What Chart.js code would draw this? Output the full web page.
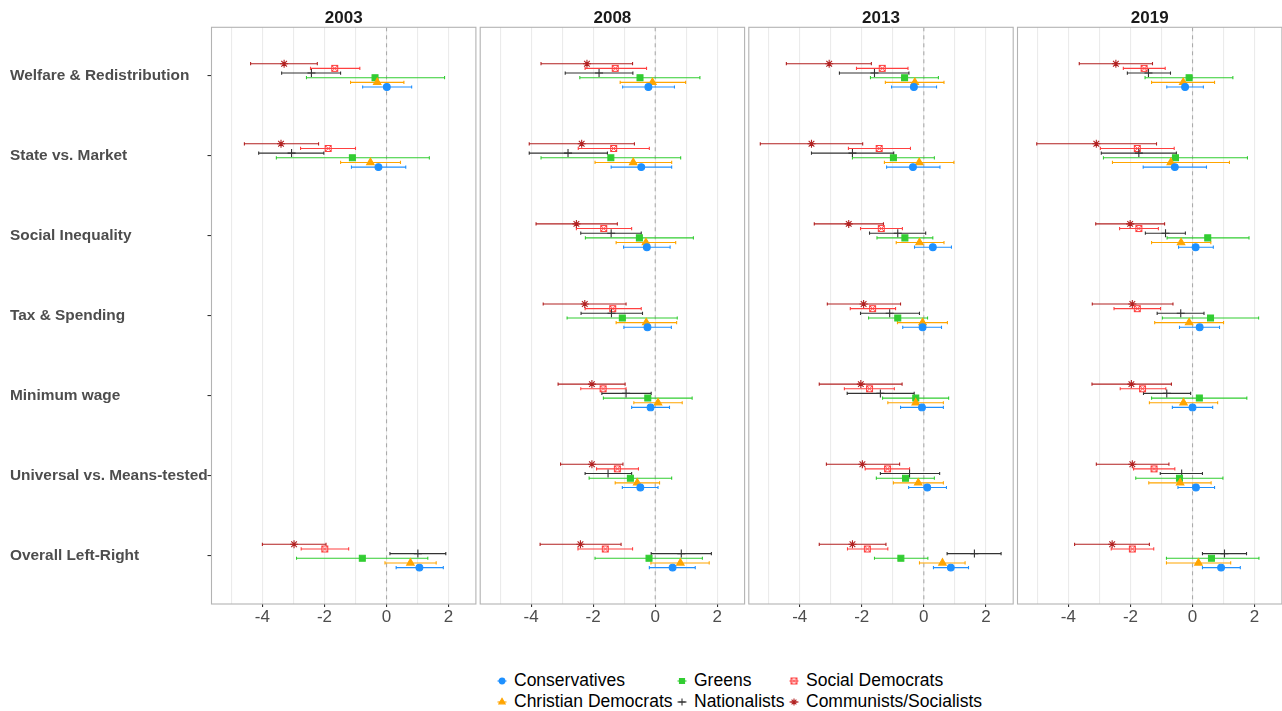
<!DOCTYPE html>
<html>
<head>
<meta charset="utf-8">
<script src="https://cdn.jsdelivr.net/npm/chart.js@4.4.1/dist/chart.umd.min.js"></script>
<style>
  html, body { margin: 0; padding: 0; background: #ffffff; }
  body { width: 1282px; height: 711px; position: relative; overflow: hidden;
         font-family: 'Liberation Sans', Arial, Helvetica, sans-serif; }
  canvas.panel { position: absolute; top: 0; }
  .legend-item { position: absolute; height: 20px; line-height: 20px; font-size: 17.5px;
                 color: #000; white-space: nowrap; }
  .legend-key { position: absolute; }
</style>
</head>
<body>
<script>
// ---- categories, facets and ticks ----
const years = ['2003', '2008', '2013', '2019'];
const categories = [
  'Welfare & Redistribution',
  'State vs. Market',
  'Social Inequality',
  'Tax & Spending',
  'Minimum wage',
  'Universal vs. Means-tested',
  'Overall Left-Right'
];
const xTicks = [-5, -4, -3, -2, -1, 0, 1, 2];

// ---- estimates: [estimate, lower, upper] per category (null = not asked) ----
const conservatives2003 = [[0.01, -0.77, 0.81], [-0.26, -1.13, 0.62], null, null, null, null, [1.06, 0.31, 1.83]];
const christianDemocrats2003 = [[-0.30, -1.16, 0.56], [-0.52, -1.48, 0.45], null, null, null, null, [0.77, -0.05, 1.60]];
const greens2003 = [[-0.37, -2.58, 1.87], [-1.10, -3.55, 1.38], null, null, null, null, [-0.78, -2.90, 1.33]];
const nationalists2003 = [[-2.42, -3.38, -1.48], [-3.06, -4.12, -2.02], null, null, null, null, [1.01, 0.11, 1.91]];
const socialDemocrats2003 = [[-1.67, -2.45, -0.86], [-1.88, -2.77, -1.00], null, null, null, null, [-1.99, -2.75, -1.22]];
const communists2003 = [[-3.30, -4.38, -2.23], [-3.40, -4.58, -2.19], null, null, null, null, [-2.98, -4.00, -1.95]];

const conservatives2008 = [[-0.22, -1.05, 0.62], [-0.45, -1.42, 0.53], [-0.27, -1.02, 0.48], [-0.25, -1.01, 0.52], [-0.15, -0.76, 0.46], [-0.48, -1.06, 0.09], [0.56, -0.19, 1.29]];
const christianDemocrats2008 = [[-0.09, -1.13, 0.98], [-0.71, -1.94, 0.53], [-0.30, -1.26, 0.66], [-0.29, -1.26, 0.69], [0.09, -0.69, 0.87], [-0.58, -1.29, 0.14], [0.81, -0.14, 1.74]];
const greens2008 = [[-0.49, -2.43, 1.44], [-1.43, -3.68, 0.82], [-0.51, -2.25, 1.23], [-1.06, -2.84, 0.71], [-0.24, -1.67, 1.19], [-0.80, -2.13, 0.53], [-0.20, -1.94, 1.52]];
const nationalists2008 = [[-1.81, -2.90, -0.72], [-2.81, -4.06, -1.54], [-1.42, -2.40, -0.45], [-1.41, -2.39, -0.41], [-0.94, -1.72, -0.13], [-1.52, -2.26, -0.76], [0.84, -0.13, 1.81]];
const socialDemocrats2008 = [[-1.29, -2.26, -0.28], [-1.34, -2.48, -0.19], [-1.66, -2.54, -0.76], [-1.37, -2.26, -0.45], [-1.68, -2.40, -0.94], [-1.22, -1.89, -0.54], [-1.61, -2.49, -0.73]];
const communists2008 = [[-2.20, -3.68, -0.73], [-2.37, -4.06, -0.67], [-2.54, -3.84, -1.22], [-2.27, -3.61, -0.94], [-2.04, -3.13, -0.97], [-2.04, -3.05, -1.04], [-2.41, -3.71, -1.10]];

const conservatives2013 = [[-0.32, -1.04, 0.41], [-0.35, -1.20, 0.52], [0.29, -0.30, 0.89], [-0.04, -0.68, 0.57], [-0.06, -0.75, 0.63], [0.11, -0.49, 0.73], [0.87, 0.31, 1.44]];
const christianDemocrats2013 = [[-0.29, -1.24, 0.65], [-0.15, -1.27, 0.97], [-0.14, -0.89, 0.65], [-0.04, -0.85, 0.76], [-0.26, -1.16, 0.63], [-0.18, -0.98, 0.63], [0.60, -0.14, 1.33]];
const greens2013 = [[-0.62, -1.72, 0.47], [-0.98, -2.30, 0.34], [-0.61, -1.51, 0.29], [-0.84, -1.78, 0.12], [-0.26, -1.33, 0.80], [-0.59, -1.53, 0.34], [-0.74, -1.59, 0.13]];
const nationalists2013 = [[-1.59, -2.72, -0.48], [-2.30, -3.62, -0.97], [-0.84, -1.75, 0.06], [-1.10, -2.04, -0.14], [-1.40, -2.47, -0.31], [-0.46, -1.40, 0.51], [1.63, 0.75, 2.49]];
const socialDemocrats2013 = [[-1.34, -2.17, -0.51], [-1.44, -2.43, -0.43], [-1.37, -2.04, -0.69], [-1.65, -2.37, -0.91], [-1.75, -2.56, -0.95], [-1.17, -1.89, -0.46], [-1.82, -2.46, -1.16]];
const communists2013 = [[-3.05, -4.43, -1.69], [-3.62, -5.27, -1.97], [-2.42, -3.53, -1.30], [-1.94, -3.11, -0.75], [-2.03, -3.37, -0.70], [-1.98, -3.14, -0.78], [-2.30, -3.37, -1.22]];

const conservatives2019 = [[-0.24, -0.83, 0.35], [-0.57, -1.59, 0.45], [0.10, -0.45, 0.67], [0.23, -0.42, 0.87], [0.00, -0.65, 0.65], [0.11, -0.47, 0.71], [0.92, 0.32, 1.54]];
const christianDemocrats2019 = [[-0.30, -1.32, 0.71], [-0.70, -2.58, 1.19], [-0.37, -1.32, 0.59], [-0.11, -1.22, 1.00], [-0.29, -1.39, 0.81], [-0.40, -1.41, 0.60], [0.19, -0.84, 1.23]];
const greens2019 = [[-0.11, -1.53, 1.30], [-0.55, -2.87, 1.77], [0.49, -0.82, 1.82], [0.58, -0.97, 2.13], [0.22, -1.32, 1.75], [-0.42, -1.83, 0.98], [0.61, -0.84, 2.14]];
const nationalists2019 = [[-1.42, -2.10, -0.71], [-1.73, -2.94, -0.52], [-0.87, -1.52, -0.23], [-0.38, -1.14, 0.37], [-0.83, -1.58, -0.06], [-0.35, -1.04, 0.32], [1.03, 0.32, 1.74]];
const socialDemocrats2019 = [[-1.56, -2.23, -0.88], [-1.78, -2.97, -0.59], [-1.73, -2.35, -1.10], [-1.78, -2.53, -1.03], [-1.61, -2.33, -0.86], [-1.24, -1.90, -0.57], [-1.94, -2.62, -1.25]];
const communists2019 = [[-2.47, -3.65, -1.29], [-3.10, -5.02, -1.16], [-2.01, -3.12, -0.90], [-1.94, -3.23, -0.63], [-1.97, -3.24, -0.68], [-1.94, -3.10, -0.76], [-2.59, -3.80, -1.39]];

// ---- look ----
const FONT = "'Liberation Sans', Arial, Helvetica, sans-serif";
const X_MIN = -5.64, X_MAX = 2.88;
const PANEL_LEFTS = [211.5, 480.2, 748.8, 1017.5];
const PANEL_W = 264.4;
const PANEL_BOTTOM = 604;
const CANVAS_H = 640;

// boxed "x" marker for the Social Democrats
function boxedCross(color) {
  const c = document.createElement('canvas');
  c.width = 9; c.height = 9;
  const g = c.getContext('2d');
  g.strokeStyle = color; g.lineWidth = 1;
  g.strokeRect(1.5, 1.5, 6, 6);
  g.beginPath();
  g.moveTo(1.5, 1.5); g.lineTo(7.5, 7.5);
  g.moveTo(7.5, 1.5); g.lineTo(1.5, 7.5);
  g.stroke();
  return c;
}

const series = [
  { name: 'Conservatives', color: '#1E90FF', pointStyle: 'circle', radius: 3.4, offset: 0.1455,
    rows: [conservatives2003, conservatives2008, conservatives2013, conservatives2019] },
  { name: 'Christian Democrats', color: '#FFA500', pointStyle: 'triangle', radius: 4.3, offset: 0.0873,
    rows: [christianDemocrats2003, christianDemocrats2008, christianDemocrats2013, christianDemocrats2019] },
  { name: 'Greens', color: '#32CD32', pointStyle: 'rect', radius: 4.2, offset: 0.0291,
    rows: [greens2003, greens2008, greens2013, greens2019] },
  { name: 'Nationalists', color: '#333333', pointStyle: 'cross', radius: 4, offset: -0.0291,
    rows: [nationalists2003, nationalists2008, nationalists2013, nationalists2019] },
  { name: 'Social Democrats', color: '#FF4040', pointStyle: boxedCross('#FF4040'), radius: 4, offset: -0.0873,
    rows: [socialDemocrats2003, socialDemocrats2008, socialDemocrats2013, socialDemocrats2019] },
  { name: 'Communists/Socialists', color: '#B22222', pointStyle: 'star', radius: 4, offset: -0.1455,
    rows: [communists2003, communists2008, communists2013, communists2019] }
];

// zero reference line, horizontal confidence intervals and panel frame
const intervalPlugin = {
  id: 'intervals',
  beforeDatasetsDraw(chart) {
    const { ctx, chartArea: a, scales: { x, y } } = chart;
    ctx.save();
    ctx.beginPath(); ctx.rect(a.left, a.top, a.width, a.height); ctx.clip();
    const x0 = x.getPixelForValue(0);
    ctx.strokeStyle = '#ABABAB'; ctx.lineWidth = 1.1; ctx.setLineDash([4, 4]);
    ctx.beginPath(); ctx.moveTo(x0, a.top); ctx.lineTo(x0, a.bottom); ctx.stroke();
    ctx.setLineDash([]);
    chart.data.datasets.forEach(ds => {
      ctx.strokeStyle = ds.borderColor; ctx.lineWidth = 1.1;
      ds.data.forEach(p => {
        const py = y.getPixelForValue(p.y);
        const x1 = x.getPixelForValue(p.lo), x2 = x.getPixelForValue(p.hi);
        ctx.beginPath();
        ctx.moveTo(x1, py); ctx.lineTo(x2, py);
        ctx.moveTo(x1, py - 1.6); ctx.lineTo(x1, py + 1.6);
        ctx.moveTo(x2, py - 1.6); ctx.lineTo(x2, py + 1.6);
        ctx.stroke();
      });
    });
    ctx.restore();
  },
  afterDraw(chart) {
    const { ctx, chartArea: a } = chart;
    ctx.save();
    ctx.strokeStyle = '#B3B3B3'; ctx.lineWidth = 1.1;
    ctx.strokeRect(a.left, a.top, a.width, a.height);
    ctx.restore();
  }
};

function buildPanel(k) {
  const first = k === 0;
  const canvas = document.createElement('canvas');
  canvas.className = 'panel';
  const pl = PANEL_LEFTS[k];
  const cl = first ? 0 : Math.floor(pl) - 3;
  const cw = first ? 478 : 270;
  canvas.width = cw; canvas.height = CANVAS_H;
  canvas.style.left = cl + 'px';
  document.body.appendChild(canvas);

  const padLeft = first ? 10 : pl - cl;
  const padRight = cl + cw - (pl + PANEL_W);

  const datasets = series.map(s => {
    const pts = [];
    s.rows[k].forEach((r, i) => {
      if (r) pts.push({ x: r[0], y: i + 1 + s.offset, lo: r[1], hi: r[2] });
    });
    return {
      label: s.name, data: pts,
      pointStyle: s.pointStyle, pointRadius: s.radius, pointHoverRadius: s.radius,
      backgroundColor: s.color, borderColor: s.color, pointBorderWidth: 1.1,
      showLine: false, clip: false
    };
  });

  const yScale = {
    type: 'linear', min: 0.4, max: 7.6, reverse: true,
    display: first,
    afterBuildTicks: sc => { sc.ticks = categories.map((c, i) => ({ value: i + 1 })); },
    ticks: {
      autoSkip: false, crossAlign: 'far', padding: 2,
      color: '#4D4D4D', font: { family: FONT, size: 15.4, weight: 'bold' },
      callback: (v, i) => categories[i]
    },
    grid: {
      drawOnChartArea: false, drawTicks: true, tickLength: 4,
      color: '#333333', lineWidth: 1.1
    },
    border: { display: false }
  };
  if (first) yScale.afterFit = sc => { sc.width = PANEL_LEFTS[0] - 10; };

  new Chart(canvas, {
    type: 'scatter',
    data: { datasets },
    plugins: [intervalPlugin],
    options: {
      responsive: false, animation: false, devicePixelRatio: 1,
      layout: { autoPadding: false, padding: { left: padLeft, right: padRight, top: 0, bottom: 0 } },
      plugins: {
        legend: { display: false }, tooltip: { enabled: false },
        title: {
          display: true, text: years[k], fullSize: false,
          color: '#1A1A1A', font: { family: FONT, size: 17, weight: 'bold', lineHeight: 1 },
          padding: { top: 9.5, bottom: 0.8 }
        }
      },
      scales: {
        x: {
          type: 'linear', min: X_MIN, max: X_MAX,
          afterBuildTicks: sc => { sc.ticks = xTicks.map(v => ({ value: v })); },
          afterFit: sc => { sc.height = CANVAS_H - PANEL_BOTTOM; },
          ticks: {
            autoSkip: false, maxRotation: 0, padding: 0,
            color: '#4D4D4D', font: { family: FONT, size: 17 },
            callback: v => (v % 2 === 0 ? String(v) : '')
          },
          grid: {
            color: '#EBEBEB', lineWidth: 1.1, tickLength: 3, tickWidth: 1.1,
            tickColor: c => (c.tick && c.tick.value % 2 === 0 ? '#333333' : 'rgba(0,0,0,0)')
          },
          border: { display: false }
        },
        y: yScale
      }
    }
  });
}

years.forEach((y, k) => buildPanel(k));

// ---- legend (three columns, two rows) ----
const legendCols = [{ key: 502, text: 514 }, { key: 682, text: 694 }, { key: 794, text: 806 }];
const legendRows = [680.7, 701.7];

series.forEach((s, i) => {
  const col = legendCols[Math.floor(i / 2)];
  const cy = legendRows[i % 2];
  const key = document.createElement('canvas');
  key.className = 'legend-key';
  key.width = 16; key.height = 16;
  key.style.left = (col.key - 8) + 'px';
  key.style.top = (Math.round(cy) - 8) + 'px';
  document.body.appendChild(key);
  const g = key.getContext('2d');
  g.strokeStyle = s.color; g.fillStyle = s.color; g.lineWidth = 1.1;
  g.beginPath(); g.moveTo(3.5, 8); g.lineTo(12.5, 8); g.stroke();
  if (typeof s.pointStyle !== 'string') {
    g.drawImage(s.pointStyle, 8 - s.pointStyle.width / 2, 8 - s.pointStyle.height / 2);
  } else if (Chart.helpers && Chart.helpers.drawPoint) {
    Chart.helpers.drawPoint(g, { pointStyle: s.pointStyle, radius: s.radius * 0.85, rotation: 0, borderWidth: 1.1 }, 8, 8);
  }

  const item = document.createElement('div');
  item.className = 'legend-item';
  item.textContent = s.name;
  item.style.left = col.text + 'px';
  item.style.top = (cy - 10.5) + 'px';
  document.body.appendChild(item);
});
</script>
</body>
</html>
